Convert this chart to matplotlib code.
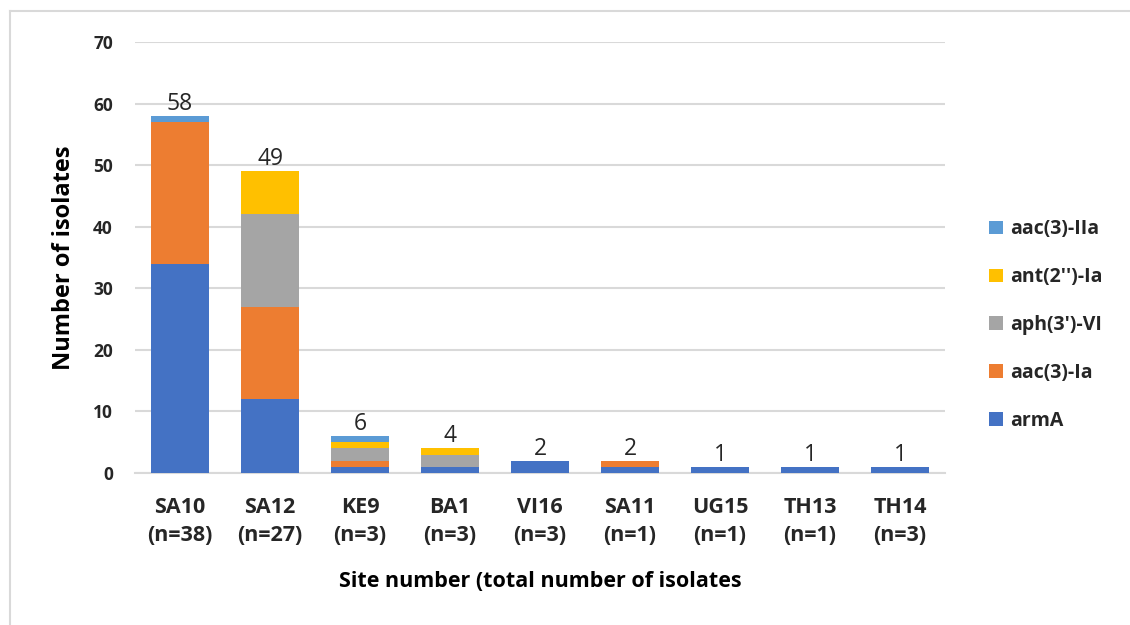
import numpy as np
import matplotlib.pyplot as plt
from matplotlib.lines import Line2D

# Data
sites = ['SA10', 'SA12', 'KE9', 'BA1', 'VI16', 'SA11', 'UG15', 'TH13', 'TH14']
n_isolates = [38, 27, 3, 3, 3, 1, 1, 1, 3]
armA = [34, 12, 1, 1, 2, 1, 1, 1, 1]
aac3_Ia = [23, 15, 1, 0, 0, 1, 0, 0, 0]
aph3_VI = [0, 15, 2, 2, 0, 0, 0, 0, 0]
ant2_Ia = [0, 7, 1, 1, 0, 0, 0, 0, 0]
aac3_IIa = [1, 0, 1, 0, 0, 0, 0, 0, 0]

series = [
    ('armA', armA, '#4472C4'),
    ('aac(3)-Ia', aac3_Ia, '#ED7D31'),
    ("aph(3')-VI", aph3_VI, '#A5A5A5'),
    ("ant(2'')-Ia", ant2_Ia, '#FFC000'),
    ('aac(3)-IIa', aac3_IIa, '#5B9BD5'),
]

plt.rcParams['font.family'] = ['Open Sans', 'DejaVu Sans']

fig = plt.figure(figsize=(11.3, 6.25), dpi=100)
ax = fig.add_axes([0.1195, 0.2432, 0.7168, 0.6896])

x = np.arange(len(sites))
bottom = np.zeros(len(sites))
handles = []
for name, vals, col in series:
    vals = np.array(vals, dtype=float)
    b = ax.bar(x, vals, width=0.645, bottom=bottom, color=col, label=name, zorder=3)
    bottom += vals
    handles.append(b)

# totals above bars
for xi, tot in zip(x, bottom):
    ax.annotate(f'{int(tot)}', (xi, tot), xytext=(0, 0), textcoords='offset points',
                ha='center', va='bottom', fontsize=16.5, color='#262626')

ax.set_xlim(-0.5, len(sites) - 0.5)
ax.set_ylim(0, 70)
ax.set_yticks(range(0, 71, 10))
ax.grid(axis='y', color='#D9D9D9', linewidth=1.5, zorder=0)
ax.set_axisbelow(True)
for s in ['top', 'right', 'left']:
    ax.spines[s].set_visible(False)
ax.spines['bottom'].set_color('#D9D9D9')
ax.spines['bottom'].set_linewidth(1.5)
ax.tick_params(length=0, labelsize=12.5, colors='#262626')
ax.tick_params(axis='y', pad=16)
ax.tick_params(axis='x', pad=17)
ax.set_xticks(x)
ax.set_xticklabels([f'{s}\n(n={n})' for s, n in zip(sites, n_isolates)],
                   fontsize=15.5, fontweight='bold', linespacing=1.45)
for t in ax.get_yticklabels():
    t.set_fontweight('bold')

ax.set_ylabel('Number of isolates', fontsize=17, fontweight='bold', labelpad=12)
ax.set_xlabel('Site number (total number of isolates', fontsize=15.5, fontweight='bold', labelpad=18)

leg = fig.legend(handles[::-1], [h.get_label() for h in handles[::-1]],
                 loc='center left', bbox_to_anchor=(0.860, 0.48), frameon=False,
                 handlelength=0.7, handleheight=0.7, handletextpad=0.35,
                 labelspacing=1.43, prop={'weight': 'bold', 'size': 14})
for t in leg.get_texts():
    t.set_color('#262626')

# outer chart border
fig.add_artist(Line2D([10 / 1130, 10 / 1130], [0, 1 - 11 / 625], color='#D9D9D9', lw=1.5, transform=fig.transFigure))
fig.add_artist(Line2D([10 / 1130, 1], [1 - 11 / 625, 1 - 11 / 625], color='#D9D9D9', lw=1.5, transform=fig.transFigure))

fig.savefig('out.png', dpi=100)
